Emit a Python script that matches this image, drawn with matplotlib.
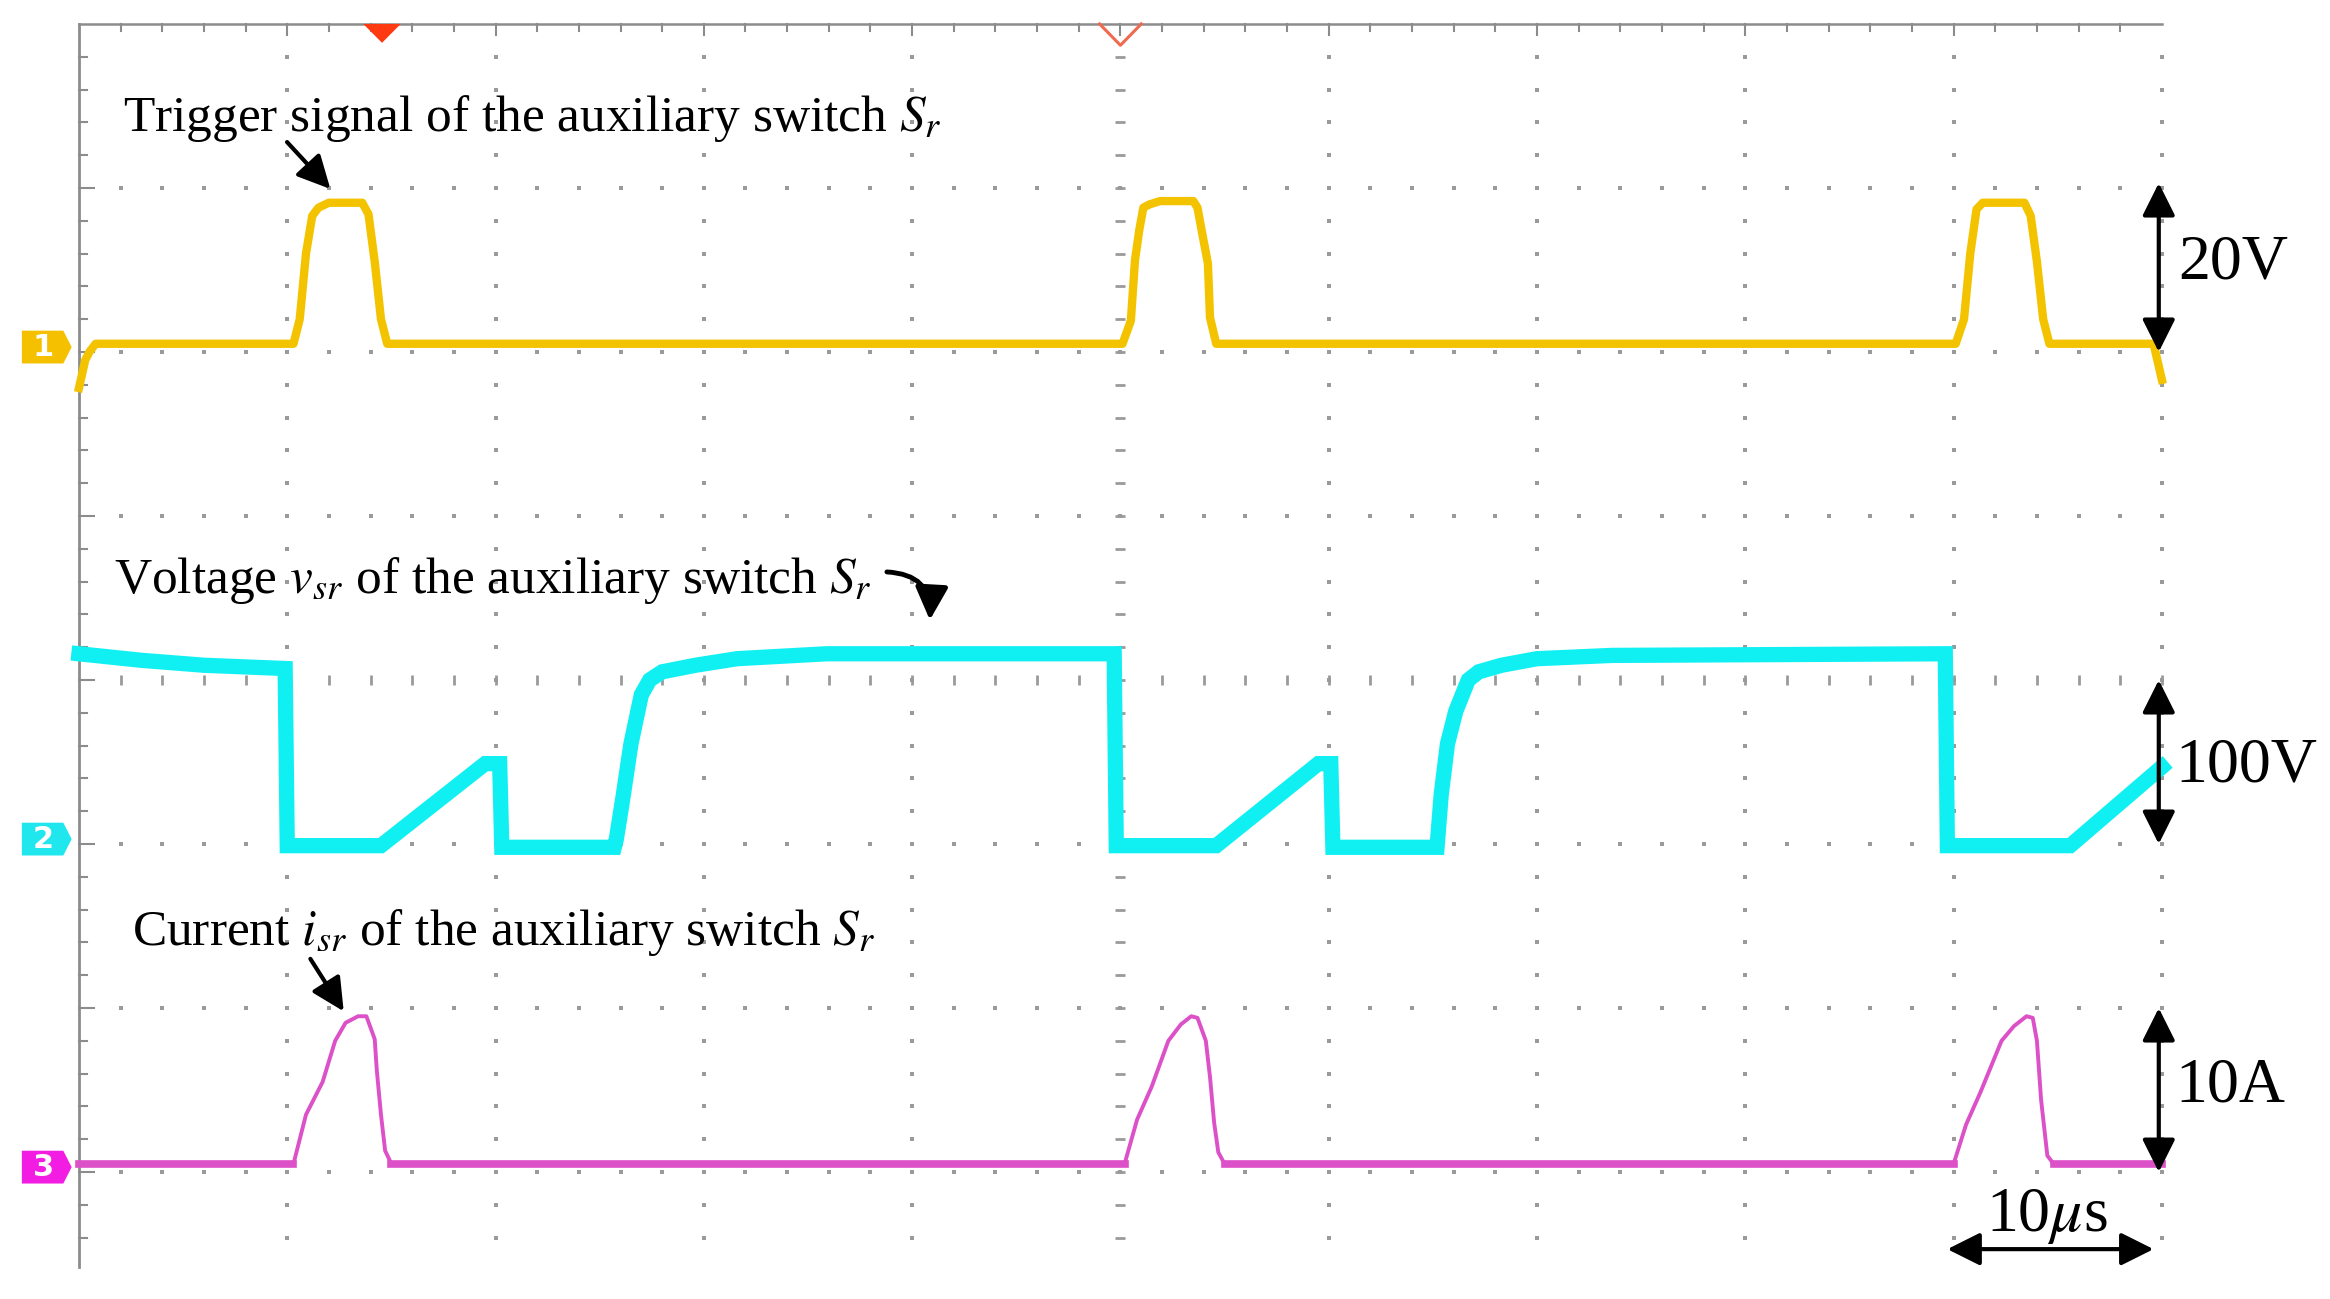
import numpy as np
import matplotlib
matplotlib.use("Agg")
import matplotlib.pyplot as plt
from matplotlib.patches import Polygon, FancyArrowPatch

plt.rcParams['font.family'] = ['Liberation Serif', 'DejaVu Serif']
plt.rcParams['mathtext.fontset'] = 'stix'

# scope settings: 10 us/div, ch1 20 V/div, ch2 100 V/div, ch3 10 A/div
us_per_div = 10.0
ch_scale = {1: 20.0, 2: 100.0, 3: 10.0}
ch_ground = {1: 6.0, 2: 3.0, 3: 1.0}   # ground marker positions (div from bottom)

# ch1: trigger signal of S_r (V)
t1 = [0.0, 0.3, 0.5, 0.8, 10.3, 10.6, 10.9, 11.2, 11.5, 12.0, 13.6, 13.9, 14.2, 14.5, 14.8,
      50.1, 50.5, 50.7, 50.9, 51.1, 51.4, 51.9, 53.5, 53.7, 53.9, 54.2, 54.3, 54.6,
      90.1, 90.5, 90.8, 91.1, 91.4, 93.4, 93.7, 94.0, 94.3, 94.6, 99.6, 100.0]
v1 = [-4.4, -1.0, 0.0, 1.0, 1.0, 4.0, 12.0, 16.6, 17.6, 18.2, 18.2, 16.8, 11.0, 4.0, 1.0,
      1.0, 3.8, 11.2, 14.8, 17.6, 18.0, 18.4, 18.4, 17.6, 14.8, 10.8, 4.2, 1.0,
      1.0, 4.0, 12.0, 17.4, 18.2, 18.2, 16.6, 11.0, 4.0, 1.0, 1.0, -3.4]

# ch2: voltage v_sr (V)
t2 = [0.0, 3.0, 6.0, 9.9, 10.0, 14.5, 19.5, 20.2, 20.3,
      25.7, 25.8, 26.1, 26.5, 27.0, 27.4, 28.0, 29.6, 31.6, 35.9, 41.7, 49.7,
      49.8, 54.6, 59.5, 60.1, 60.2,
      65.2, 65.4, 65.7, 66.1, 66.7, 67.2, 68.3, 70.0, 73.6, 89.6,
      89.7, 95.6, 100.0]
v2 = [116, 112, 109, 107, -1, -1, 49, 49, -2,
      -2, 3, 27, 61, 91, 100, 105, 109, 113, 116, 116, 116,
      -1, -1, 49, 49, -2,
      -2, 30, 61, 81, 100, 105, 109, 113, 115, 116,
      -1, -1, 47]

# ch3: current i_sr (A)
t3 = [0.0, 10.3, 10.9, 11.7, 12.3, 12.8, 13.4, 13.8, 14.2, 14.3, 14.5, 14.7, 15.0,
      50.2, 50.8, 51.5, 52.3, 52.9, 53.4, 53.7, 54.1, 54.3, 54.5, 54.7, 55.0,
      90.0, 90.6, 91.3, 92.3, 92.9, 93.5, 93.8, 94.0, 94.2, 94.5, 94.8, 100.0]
v3 = [0.5, 0.5, 3.5, 5.5, 8.0, 9.1, 9.5, 9.5, 8.1, 6.2, 3.5, 1.3, 0.5,
      0.5, 3.2, 5.2, 8.0, 9.0, 9.5, 9.4, 8.0, 5.8, 3.0, 1.2, 0.5,
      0.5, 2.9, 4.9, 8.0, 8.9, 9.5, 9.4, 8.0, 4.4, 1.0, 0.5, 0.5]

ch_color = {1: '#F4C300', 2: '#10F0F2', 3: '#DC50C8'}
marker_color = {1: '#F5C000', 2: '#20E6EE', 3: '#F21CE2'}
grid_gray = '#9a9a9a'

fig = plt.figure(figsize=(23.3, 12.99), dpi=100)
ax = fig.add_axes([0, 0, 1, 1])
ax.set_xlim(-0.379, 10.807)
ax.set_ylim(0.226, 8.146)
ax.axis('off')

# --- graticule ---
y_bottom = 0.42
ax.plot([0, 0], [8, y_bottom], color='#8c8c8c', lw=2.0, zorder=2)
ax.plot([0, 10], [8, 8], color='#8c8c8c', lw=1.8, zorder=2)

minor_x = np.arange(1, 50) * 0.2
minor_y = 8 - np.arange(1, 38) * 0.2
# top border ticks
for xx in minor_x:
    major = abs(xx - round(xx)) < 1e-6
    ax.plot([xx, xx], [8, 8 - (0.065 if major else 0.04)], color='#8c8c8c', lw=1.5, zorder=2)
# left border ticks
for yy in minor_y:
    major = abs(yy - round(yy)) < 1e-6
    ax.plot([0, 0.07 if major else 0.04], [yy, yy], color='#8c8c8c', lw=1.5, zorder=2)

# dotted major columns
for col in range(1, 11):
    if col == 5:
        ax.plot(np.full_like(minor_y, 5.0), minor_y, ls='none', marker='_', ms=7,
                mew=2, color=grid_gray, zorder=2)
    else:
        ax.plot(np.full_like(minor_y, float(col)), minor_y, ls='none', marker='s', ms=2.2,
                mew=0, color=grid_gray, zorder=2)
# dotted major rows
row_x = np.arange(1, 51) * 0.2
for row in range(1, 8):
    if row == 4:
        ax.plot(row_x, np.full_like(row_x, 4.0), ls='none', marker='|', ms=7,
                mew=2, color=grid_gray, zorder=2)
    else:
        ax.plot(row_x, np.full_like(row_x, float(row)), ls='none', marker='s', ms=2.2,
                mew=0, color=grid_gray, zorder=2)

# --- traces ---
def to_screen(t, v, ch):
    return np.array(t) / us_per_div, ch_ground[ch] + np.array(v, dtype=float) / ch_scale[ch]

x, y = to_screen(t1, v1, 1)
ax.plot(x, y, color=ch_color[1], lw=6, solid_joinstyle='round', zorder=5)

x, y = to_screen(t2, v2, 2)
ax.plot(x, y, color=ch_color[2], lw=11, solid_joinstyle='miter', zorder=5)

x, y = to_screen(t3, v3, 3)
ax.plot(x, y, color=ch_color[3], lw=2.8, zorder=5)
base = np.where(np.array(v3) <= 0.6, y, np.nan)
ax.plot(x, base, color=ch_color[3], lw=5.5, zorder=5)

# --- channel markers ---
for ch in (1, 2, 3):
    g = ch_ground[ch] + 0.03
    h = 0.1
    poly = Polygon([(-0.274, g + h), (-0.075, g + h), (-0.035, g), (-0.075, g - h), (-0.274, g - h)],
                   closed=True, facecolor=marker_color[ch], edgecolor='none', zorder=6)
    ax.add_patch(poly)
    ax.text(-0.17, g, str(ch), color='white', fontsize=22, fontweight='bold',
            family='DejaVu Sans', ha='center', va='center', zorder=7)

# --- trigger markers on top ---
ax.add_patch(Polygon([(1.365, 8.0), (1.545, 8.0), (1.455, 7.885)], closed=True,
                     facecolor='#FF3A10', edgecolor='none', zorder=6))
ax.plot([4.9, 5.0, 5.1], [8.0, 7.87, 8.0], color='#F06A50', lw=2.2, zorder=6)

# --- annotations ---
fs = 37
ax.text(0.211, 7.35, 'Trigger signal of the auxiliary switch $S_r$', fontsize=fs, va='baseline', ha='left', zorder=8)
ax.text(0.168, 4.53, 'Voltage $v_{sr}$ of the auxiliary switch $S_r$', fontsize=fs, va='baseline', ha='left', zorder=8)
ax.text(0.254, 2.384, 'Current $i_{sr}$ of the auxiliary switch $S_r$', fontsize=fs, va='baseline', ha='left', zorder=8)

arrow_kw = dict(arrowstyle='-|>,head_length=0.5,head_width=0.25', color='k', lw=3,
                mutation_scale=40, shrinkA=0, shrinkB=0)
ax.annotate('', xy=(1.207, 6.994), xytext=(0.999, 7.28), arrowprops=arrow_kw, zorder=8)
ax.annotate('', xy=(1.271, 1.98), xytext=(1.111, 2.30), arrowprops=arrow_kw, zorder=8)
curved = FancyArrowPatch(posA=(3.879, 4.659), posB=(4.085, 4.366),
                         connectionstyle='arc3,rad=-0.5',
                         arrowstyle='-|>,head_length=0.5,head_width=0.25',
                         mutation_scale=40, lw=3.5, color='k', shrinkA=0, shrinkB=0, zorder=8)
ax.add_patch(curved)

# --- scale arrows ---
dbl = dict(arrowstyle='<|-|>,head_length=0.5,head_width=0.25', color='k', lw=3,
           mutation_scale=40, shrinkA=0, shrinkB=0)
ax.annotate('', xy=(9.985, 7.03), xytext=(9.985, 6.0), arrowprops=dbl, zorder=8)
ax.annotate('', xy=(9.985, 4.0), xytext=(9.985, 3.0), arrowprops=dbl, zorder=8)
ax.annotate('', xy=(9.985, 2.0), xytext=(9.985, 1.0), arrowprops=dbl, zorder=8)
ax.annotate('', xy=(8.97, 0.53), xytext=(9.96, 0.53), arrowprops=dbl, zorder=8)

sfs = 46
ax.text(10.08, 6.54, '20V', fontsize=sfs, ha='left', va='center', zorder=8)
ax.text(10.065, 3.47, '100V', fontsize=sfs, ha='left', va='center', zorder=8)
ax.text(10.065, 1.52, '10A', fontsize=sfs, ha='left', va='center', zorder=8)
ax.text(9.45, 0.73, '10$\\mu$s', fontsize=sfs, ha='center', va='center', zorder=8)

fig.savefig('out.png', dpi=100)
